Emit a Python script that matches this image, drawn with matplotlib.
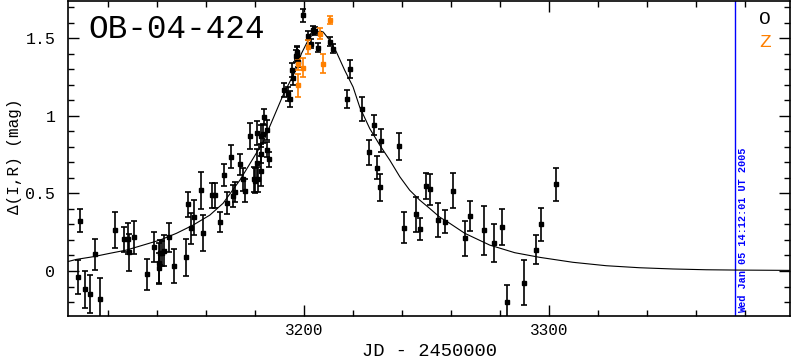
import matplotlib
matplotlib.use("Agg")
import matplotlib.pyplot as plt
from matplotlib.ticker import MultipleLocator, FormatStrFormatter

plt.rcParams["font.family"] = ["Liberation Mono", "DejaVu Sans Mono"]

# observatory O (black)
o_jd = [3108.6, 3107.5, 3110.6, 3112.7, 3116.6, 3114.7, 3122.7, 3126.4, 3128.2, 3128.4,
        3130.5, 3135.7, 3138.7, 3140.6, 3140.8, 3141.1, 3141.9, 3142.9, 3144.7, 3146.8,
        3151.7, 3152.7, 3153.9, 3154.9, 3157.8, 3158.8, 3162.6, 3163.6, 3165.6, 3167.5,
        3168.7, 3170.0, 3170.8, 3171.8, 3173.9, 3175.0, 3175.9, 3179.5, 3180.0, 3180.6,
        3181.0, 3182.4, 3182.4, 3185.7, 3177.8, 3180.8, 3182.4, 3183.3, 3183.6, 3184.7,
        3184.7, 3191.8, 3193.6, 3194.3, 3194.9, 3195.5, 3196.5, 3196.9, 3197.1, 3197.4,
        3199.6, 3201.7, 3202.7, 3203.8, 3204.5, 3205.7, 3210.5, 3211.8, 3218.7, 3217.7,
        3223.5, 3228.6, 3226.5, 3231.6, 3229.8, 3230.8, 3238.7, 3240.6, 3245.7, 3247.5,
        3249.7, 3251.6, 3254.7, 3257.7, 3260.6, 3265.6, 3267.6, 3273.6, 3277.4, 3280.7,
        3282.7, 3289.6, 3294.6, 3296.6, 3302.7]
o_mag = [0.324, -0.037, -0.118, -0.148, -0.178, 0.107, 0.264, 0.204, 0.208, 0.120,
         0.217, -0.021, 0.154, 0.050, 0.017, 0.118, 0.114, 0.131, 0.217, 0.032,
         0.088, 0.431, 0.277, 0.346, 0.521, 0.243, 0.489, 0.489, 0.317, 0.618,
         0.440, 0.736, 0.483, 0.510, 0.689, 0.590, 0.517, 0.590, 0.581, 0.693,
         0.590, 0.757, 0.643, 0.719, 0.871, 0.890, 0.869, 0.886, 0.993, 0.907,
         0.783, 1.165, 1.139, 1.108, 1.298, 1.246, 1.384, 1.401, 1.411, 1.347,
         1.647, 1.517, 1.465, 1.551, 1.546, 1.440, 1.477, 1.433, 1.300, 1.111,
         1.044, 0.940, 0.764, 0.838, 0.665, 0.539, 0.804, 0.279, 0.365, 0.270,
         0.547, 0.526, 0.328, 0.317, 0.517, 0.210, 0.356, 0.262, 0.178, 0.283,
         -0.199, -0.075, 0.137, 0.300, 0.558]
o_err = [0.073, 0.111, 0.120, 0.124, 0.130, 0.100, 0.116, 0.080, 0.100, 0.120,
         0.107, 0.100, 0.097, 0.130, 0.100, 0.080, 0.080, 0.100, 0.093, 0.110,
         0.120, 0.080, 0.100, 0.114, 0.120, 0.116, 0.080, 0.080, 0.064, 0.070,
         0.070, 0.075, 0.073, 0.064, 0.068, 0.075, 0.075, 0.080, 0.080, 0.093,
         0.080, 0.064, 0.097, 0.048, 0.084, 0.077, 0.070, 0.064, 0.050, 0.064,
         0.050, 0.045, 0.045, 0.050, 0.045, 0.045, 0.040, 0.040, 0.040, 0.035,
         0.043, 0.030, 0.030, 0.025, 0.025, 0.030, 0.030, 0.030, 0.058, 0.058,
         0.078, 0.064, 0.080, 0.074, 0.073, 0.087, 0.088, 0.100, 0.113, 0.070,
         0.084, 0.100, 0.110, 0.073, 0.113, 0.115, 0.096, 0.160, 0.122, 0.115,
         0.110, 0.146, 0.093, 0.107, 0.108]

# observatory Z (orange)
z_jd = [3197.5, 3197.5, 3199.7, 3201.7, 3206.5, 3207.6, 3210.6]
z_mag = [1.332, 1.197, 1.310, 1.443, 1.530, 1.337, 1.615]
z_err = [0.037, 0.073, 0.061, 0.045, 0.037, 0.062, 0.026]

# fitted light curve
fit_jd = [3103.6, 3107.1, 3113.9, 3120.7, 3127.5, 3134.3, 3141.1, 3147.9, 3154.7, 3161.5,
          3166.9, 3173.8, 3183.3, 3191.4, 3196.2, 3198.9, 3202.3, 3205.7, 3206.7, 3207.8,
          3210.5, 3213.2, 3216.6, 3220.0, 3222.7, 3226.8, 3230.9, 3235.0, 3239.1, 3243.1,
          3247.2, 3251.3, 3255.4, 3259.5, 3265.6, 3275.8, 3286.0, 3296.2, 3309.8, 3323.4,
          3337.0, 3350.6, 3364.2, 3376.5, 3398.2]
fit_mag = [0.061, 0.075, 0.092, 0.114, 0.135, 0.167, 0.199, 0.243, 0.296, 0.360,
           0.436, 0.586, 0.832, 1.133, 1.282, 1.401, 1.508, 1.540, 1.546, 1.540,
           1.486, 1.411, 1.293, 1.186, 1.057, 0.918, 0.811, 0.714, 0.607, 0.521,
           0.457, 0.403, 0.347, 0.307, 0.243, 0.167, 0.118, 0.088, 0.056, 0.034,
           0.021, 0.013, 0.008, 0.006, 0.004]

event_name = "OB-04-424"
obs_labels = ["O", "Z"]
obs_colors = ["black", "#ff8000"]
now_jd = 3376.1
now_text = "Wed Jan 05 14:12:01 UT 2005"

fig = plt.figure(figsize=(7.92, 3.62), dpi=100)
ax = fig.add_axes([68 / 792, 46 / 362, 722 / 792, 315 / 362])

ax.plot(fit_jd, fit_mag, color="black", lw=0.8, zorder=2)

for jd, mag, err, c in [(o_jd, o_mag, o_err, obs_colors[0]), (z_jd, z_mag, z_err, obs_colors[1])]:
	ax.errorbar(jd, mag, yerr=err, fmt="s", ms=2.2, color=c, ecolor=c,
				elinewidth=1.2, capsize=1.9, capthick=1.2, zorder=3)

ax.axvline(now_jd, color="#0000ff", lw=1.0, zorder=1)
ax.text(now_jd + 0.9, -0.272, now_text, rotation=90, ha="left", va="bottom",
		color="#0000ff", fontsize=7.4, fontweight="bold")

ax.set_xlim(3103.6, 3398.4)
ax.set_ylim(-0.29, 1.74)

ax.xaxis.set_major_locator(MultipleLocator(100))
ax.xaxis.set_minor_locator(MultipleLocator(20))
ax.yaxis.set_major_locator(MultipleLocator(0.5))
ax.yaxis.set_minor_locator(MultipleLocator(0.1))
ax.yaxis.set_major_formatter(FormatStrFormatter("%g"))
ax.tick_params(which="both", direction="in", top=True, right=True, width=1.0, color="black")
ax.tick_params(which="major", length=8)
ax.tick_params(which="minor", length=4)
ax.tick_params(axis="x", labelsize=11.5, pad=5)
ax.tick_params(axis="y", labelsize=12, pad=9)
for s in ax.spines.values():
	s.set_linewidth(1.2)

ax.text(0.028, 0.884, event_name, transform=ax.transAxes, fontsize=23.5,
		ha="left", va="baseline")
ax.text(0.9737, 0.926, obs_labels[0], transform=ax.transAxes, fontsize=14,
		ha="right", va="baseline", color=obs_colors[0])
ax.text(0.9737, 0.855, obs_labels[1], transform=ax.transAxes, fontsize=14,
		ha="right", va="baseline", color=obs_colors[1])

fig.text(430 / 792, 1 - 352 / 362, "JD - 2450000", ha="center", va="center", fontsize=13.5)
fig.text(15 / 792, 1 - 156 / 362, "\u0394(I,R) (mag)", ha="center", va="center",
		 rotation=90, fontsize=11.5)

fig.savefig("out.png", dpi=100)
plt.close(fig)
